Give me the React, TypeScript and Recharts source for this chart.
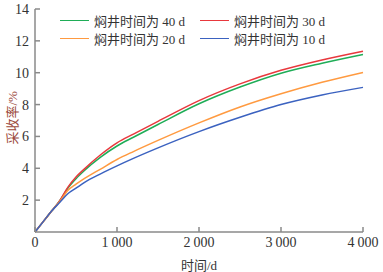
import { LineChart, Line, XAxis, YAxis } from 'recharts'

const days = [0, 100, 200, 300, 400, 500, 600, 800, 1000, 1200, 1500, 2000, 2500, 3000, 3500, 4000]
const soak40 = [0, 0.65, 1.3, 1.95, 2.75, 3.35, 3.85, 4.7, 5.4, 5.95, 6.75, 8.05, 9.1, 9.97, 10.6, 11.15]
const soak30 = [0, 0.65, 1.3, 1.95, 2.8, 3.45, 3.95, 4.85, 5.6, 6.15, 6.95, 8.25, 9.3, 10.15, 10.8, 11.35]
const soak20 = [0, 0.65, 1.3, 1.9, 2.6, 3.0, 3.35, 3.95, 4.55, 5.05, 5.75, 6.85, 7.85, 8.68, 9.4, 10.02]
const soak10 = [0, 0.65, 1.3, 1.85, 2.4, 2.75, 3.1, 3.65, 4.15, 4.62, 5.28, 6.3, 7.2, 8.0, 8.6, 9.08]

const xTicks = [0, 1000, 2000, 3000, 4000]
const yTicks = [2, 4, 6, 8, 10, 12, 14]

const series = [
  { key: 'd40', name: '焖井时间为 40 d', color: '#1fad57', values: soak40 },
  { key: 'd30', name: '焖井时间为 30 d', color: '#e8383d', values: soak30 },
  { key: 'd20', name: '焖井时间为 20 d', color: '#ff9a40', values: soak20 },
  { key: 'd10', name: '焖井时间为 10 d', color: '#3b62c0', values: soak10 },
]

const data = days.map((t, i) => {
  const row: Record<string, number> = { t }
  series.forEach((s) => { row[s.key] = s.values[i] })
  return row
})

const serif = "'Liberation Serif', 'Noto Sans CJK SC', serif"
const axisColor = '#8a8a8a'

const fmtX = (v: number) => (v >= 1000 ? `${Math.floor(v / 1000)}\u2009${String(v % 1000).padStart(3, '0')}` : `${v}`)

// legend drawn as an overlay so it doesn't take room from the plot
const LegendBox = () => (
  <div style={{ position: 'absolute', left: 60, top: 11, display: 'grid', gridTemplateColumns: '140px 150px', fontFamily: serif, fontSize: 13, color: '#333' }}>
    {series.map((s) => (
      <div key={s.key} style={{ display: 'flex', alignItems: 'center', height: 18, whiteSpace: 'nowrap' }}>
        <span style={{ display: 'inline-block', width: 29, height: 0, borderTop: `1.5px solid ${s.color}`, marginRight: 5 }} />
        <span>{s.name}</span>
      </div>
    ))}
  </div>
)

export default function App() {
  return (
    <div style={{ position: 'absolute', left: 0, top: 0, width: 383, height: 272, background: '#fff' }}>
      <LineChart width={383} height={272} data={data} margin={{ top: 9, right: 20, bottom: 0, left: 0 }}>
        <XAxis
          dataKey="t"
          type="number"
          domain={[0, 4000]}
          ticks={xTicks}
          tickFormatter={fmtX}
          stroke={axisColor}
          strokeWidth={1.5}
          tickSize={-5}
          tickMargin={10}
          height={40}
          tick={{ fill: '#333', fontSize: 14, fontFamily: serif }}
          label={{ value: '时间/d', position: 'insideBottom', offset: 2, fill: '#333', fontSize: 13, fontFamily: serif }}
        />
        <YAxis
          type="number"
          domain={[0, 14]}
          ticks={yTicks}
          stroke={axisColor}
          strokeWidth={1.5}
          tickSize={-5}
          tickMargin={11}
          width={35}
          tick={{ fill: '#333', fontSize: 14, fontFamily: serif }}
          label={{ value: '采收率/%', angle: -90, position: 'insideLeft', offset: 12, dy: 24, fill: '#9c4a3c', fontSize: 13, fontFamily: serif }}
        />
        {series.map((s) => (
          <Line
            key={s.key}
            dataKey={s.key}
            name={s.name}
            type="monotone"
            stroke={s.color}
            strokeWidth={1.5}
            dot={false}
            isAnimationActive={false}
          />
        ))}
      </LineChart>
      <LegendBox />
    </div>
  )
}
